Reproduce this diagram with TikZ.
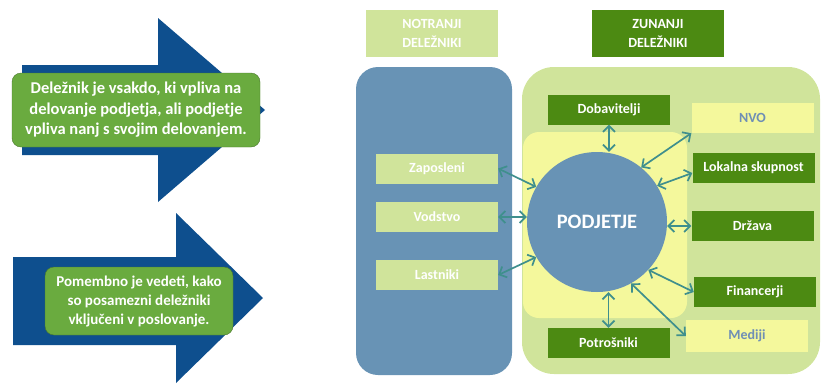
\documentclass[tikz,border=0pt]{standalone}
\usepackage{fontspec}
\setmainfont{Carlito}
\usetikzlibrary{arrows.meta}

\definecolor{darkblue}{HTML}{0E4F8E}
\definecolor{leafgreen}{HTML}{6AAB3F}
\definecolor{palegreen}{HTML}{D0E49B}
\definecolor{deepgreen}{HTML}{4C8A12}
\definecolor{paleyellow}{HTML}{F4F89C}
\definecolor{steelblue}{HTML}{6893B5}
\definecolor{tealline}{HTML}{3F8F8D}
\definecolor{greytext}{HTML}{6F8FB5}

\tikzset{
    infobox/.style={fill=leafgreen,draw=leafgreen!70!black,rounded corners=9pt,text=white,
        align=center,inner sep=0pt},
    header/.style={minimum width=132pt,minimum height=47pt,align=center,text=white,
        font=\fontsize{14}{19}\selectfont\bfseries,inner sep=0pt},
    item/.style={minimum width=122pt,minimum height=30pt,text=white,
        font=\fontsize{14}{16}\selectfont\bfseries,inner sep=0pt},
}

\begin{document}
\begin{tikzpicture}[x=1pt,y=-1pt]
    \useasboundingbox (0,0) rectangle (821,383);

    % big arrows on the left
    \fill[darkblue] (22,65) -- (158,65) -- (158,18) -- (265,110) -- (158,202) -- (158,155) -- (22,155) -- cycle;
    \fill[darkblue] (13,257) -- (176,257) -- (176,213) -- (263,298) -- (176,383) -- (176,345) -- (13,345) -- cycle;

    \node[infobox,minimum width=248pt,minimum height=74pt,font=\fontsize{16.5}{20.5}\selectfont\bfseries] (def) at (136,110)
        {Deležnik je vsakdo, ki vpliva na\\delovanje podjetja, ali podjetje\\vpliva nanj s svojim delovanjem.};
    \node[infobox,minimum width=188pt,minimum height=68pt,font=\fontsize{15}{19}\selectfont\bfseries] (note) at (139,301)
        {Pomembno je vedeti, kako\\so posamezni deležniki\\vključeni v poslovanje.};

    % panels
    \node[header,fill=palegreen] (notranji) at (432,33.5) {NOTRANJI\\DELEŽNIKI};
    \node[header,fill=deepgreen] (zunanji) at (658,33.5) {ZUNANJI\\DELEŽNIKI};

    \node[fill=steelblue,rounded corners=22pt,minimum width=156pt,minimum height=308pt] (inner) at (434,221) {};
    \node[fill=palegreen,rounded corners=32pt,minimum width=298pt,minimum height=307pt] (outer) at (671,220.5) {};
    \node[fill=paleyellow,rounded corners=16pt,minimum width=164pt,minimum height=186pt] (core) at (605,225) {};

    \node[circle,fill=steelblue,minimum size=140pt,inner sep=0pt,text=white,
        font=\fontsize{20.5}{22}\selectfont\bfseries] (podjetje) at (597,222) {PODJETJE};

    \begin{scope}[every node/.style={item,fill=palegreen}]
        \node (zaposleni) at (437,168.5) {Zaposleni};
        \node (vodstvo) at (437,217) {Vodstvo};
        \node (lastniki) at (437,275) {Lastniki};
    \end{scope}

    \begin{scope}[every node/.style={item,fill=deepgreen}]
        \node (dobavitelji) at (609,109.5) {Dobavitelji};
        \node[fill=paleyellow,text=greytext] (nvo) at (752.5,118) {NVO};
        \node (lokalna) at (753.5,168) {Lokalna skupnost};
        \node (drzava) at (752.5,226) {Država};
        \node (financerji) at (755,292) {Financerji};
        \node[fill=paleyellow,text=greytext,minimum height=32pt] (mediji) at (747,336) {Mediji};
        \node (potrosniki) at (608.5,343) {Potrošniki};
    \end{scope}

    \begin{scope}[every edge/.style={draw,tealline,line width=1.7pt,
            {Straight Barb[length=6pt,width=12pt]}-{Straight Barb[length=6pt,width=12pt]}}]
        \path (zaposleni.east) edge (podjetje.150);
        \path (vodstvo.east) edge (vodstvo.east -| podjetje.west);
        \path (lastniki.east) edge (podjetje.210);

        \path (dobavitelji.south) edge (dobavitelji.south |- podjetje.north);
        \path (nvo.south west) edge (podjetje.51);
        \path ([yshift=-5pt]lokalna.west) edge (podjetje.31);
        \path (drzava.west) edge (drzava.west -| podjetje.east);
        \path (financerji.west) edge (podjetje.-43);
        \path (mediji.west) edge (podjetje.-61);
        \path (potrosniki.north) edge (potrosniki.north |- podjetje.south);
    \end{scope}
\end{tikzpicture}
\end{document}
